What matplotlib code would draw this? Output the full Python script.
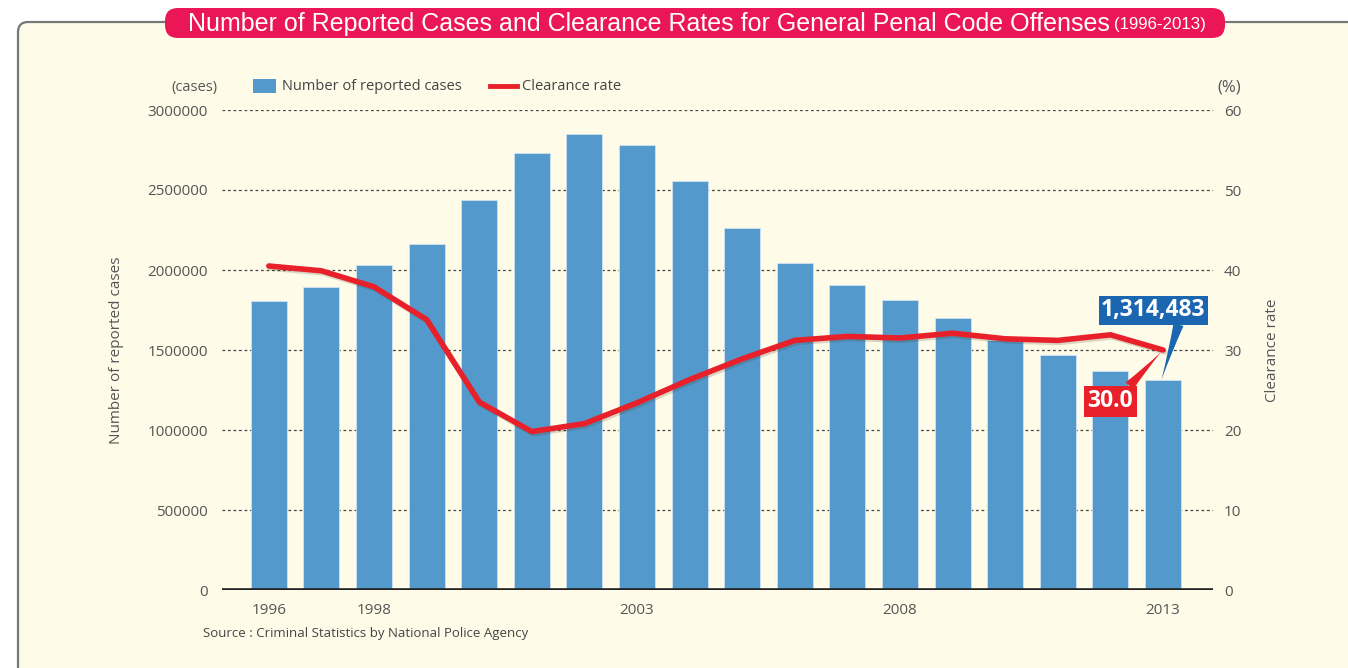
import matplotlib
matplotlib.use("Agg")
import matplotlib.pyplot as plt
from matplotlib.patches import FancyBboxPatch, Rectangle
from matplotlib.lines import Line2D
import matplotlib.patheffects as pe

# ---- data ----
years = list(range(1996, 2014))
reported_cases = [1806000, 1894000, 2031000, 2162000, 2437000, 2731000, 2850000,
                  2781000, 2556000, 2262000, 2044000, 1906000, 1812000, 1700000,
                  1562000, 1469000, 1369000, 1314483]
clearance_rate = [40.5, 39.9, 37.9, 33.8, 23.5, 19.8, 20.8, 23.4, 26.3, 28.9,
                  31.2, 31.7, 31.5, 32.1, 31.4, 31.2, 31.9, 30.0]
xtick_years = [1996, 1998, 2003, 2008, 2013]
left_ticks = [0, 500000, 1000000, 1500000, 2000000, 2500000, 3000000]
right_ticks = [0, 10, 20, 30, 40, 50, 60]

title = "Number of Reported Cases and Clearance Rates for General Penal Code Offenses"
subtitle = "(1996-2013)"
source = "Source : Criminal Statistics by National Police Agency"

BAR = "#5499CB"
RED = "#E8202A"
PINK = "#EB1655"
BLUE_BOX = "#1A66B0"
CREAM = "#FEFBE9"
GREY = "#555555"
FONT = ["Open Sans", "DejaVu Sans"]
TFONT = ["Liberation Sans Narrow", "Liberation Sans", "DejaVu Sans"]

W, H = 1348, 668
fig = plt.figure(figsize=(W / 100, H / 100), dpi=100)
fig.patch.set_facecolor("white")

# background axes in pixel coordinates
bg = fig.add_axes([0, 0, 1, 1], zorder=0)
bg.set_xlim(0, W)
bg.set_ylim(H, 0)
bg.axis("off")
frame = FancyBboxPatch((18, 22), 1400, 700, boxstyle="round,pad=0,rounding_size=10",
                       facecolor=CREAM, edgecolor="#777777", linewidth=1.6)
bg.add_patch(frame)
tbox = FancyBboxPatch((165, 8), 1060, 30, boxstyle="round,pad=0,rounding_size=13",
                      facecolor=PINK, edgecolor="none")
bg.add_patch(tbox)
t1 = bg.text(188, 24, title, color="white", fontsize=18.0, family=TFONT,
             va="center", ha="left")
bg.annotate(subtitle, xy=(1, 0.5), xycoords=t1, xytext=(3, 0), textcoords="offset points",
            color="white", fontsize=12.2, family=TFONT, va="center", ha="left")

# main axes
x0, x1 = 222, 1213
ytop, ybot = 110, 590
ax = fig.add_axes([x0 / W, 1 - ybot / H, (x1 - x0) / W, (ybot - ytop) / H], zorder=1)
ax.patch.set_alpha(0)
xs = list(range(len(years)))
ax.bar(xs, reported_cases, width=0.685, color=BAR, edgecolor="#CFE3F2",
       linewidth=0.6, zorder=2)
ax.set_xlim(-0.89, 17.95)
ax.set_ylim(0, 3000000)
ax.set_yticks(left_ticks)
ax.set_yticklabels([str(v) for v in left_ticks])
for v in left_ticks[1:]:
    ax.axhline(v, color="#444444", linestyle=(0, (2.2, 2.2)), linewidth=0.9, zorder=1)
ax.axhline(0, color="#222222", linewidth=2.6, zorder=3)
ax.set_xticks([years.index(y) for y in xtick_years])
ax.set_xticklabels([str(y) for y in xtick_years])
for s in ax.spines.values():
    s.set_visible(False)
ax.tick_params(axis="both", length=0, labelsize=11, colors=GREY, labelcolor=GREY)
ax.tick_params(axis="y", pad=10)
ax.tick_params(axis="x", pad=9)
for lab in ax.get_xticklabels() + ax.get_yticklabels():
    lab.set_family(FONT)
ax.set_ylabel("Number of reported cases", family=FONT, fontsize=11, color=GREY, labelpad=17)

ax2 = ax.twinx()
ax2.set_zorder(2)
ax2.patch.set_alpha(0)
ax2.set_ylim(0, 60)
ax2.set_yticks(right_ticks)
ax2.set_yticklabels([str(v) for v in right_ticks])
for s in ax2.spines.values():
    s.set_visible(False)
ax2.tick_params(axis="y", length=0, labelsize=11, colors=GREY, labelcolor=GREY, pad=8)
for lab in ax2.get_yticklabels():
    lab.set_family(FONT)
ax2.set_ylabel("Clearance rate", family=FONT, fontsize=11, color=GREY, labelpad=17)
ax2.plot(xs, clearance_rate, color=RED, linewidth=4.0, solid_joinstyle="miter",
         solid_capstyle="round", zorder=4,
         path_effects=[pe.SimpleLineShadow(offset=(1.2, -1.5), shadow_color="#3a3010", alpha=0.18),
                       pe.Normal()])

# annotations
ax.annotate(f"{reported_cases[-1]:,}", xy=(xs[-1] - 0.03, reported_cases[-1]),
            xytext=(-6, 50), textcoords="offset points", ha="center", va="center",
            fontsize=16.5, fontweight="bold", color="white", family=FONT,
            bbox=dict(boxstyle="square,pad=0.1", facecolor=BLUE_BOX, edgecolor="none"),
            arrowprops=dict(arrowstyle="wedge,tail_width=0.45,shrink_factor=0.4",
                            facecolor=BLUE_BOX, edgecolor="none", shrinkA=0, shrinkB=0,
                            relpos=(0.75, 0)),
            zorder=6)
ax2.annotate(f"{clearance_rate[-1]:.1f}", xy=(xs[-1], clearance_rate[-1]),
             xytext=(-38, -37), textcoords="offset points", ha="center", va="center",
             fontsize=16.5, fontweight="bold", color="white", family=FONT,
             bbox=dict(boxstyle="square,pad=0.15", facecolor=RED, edgecolor="none"),
             arrowprops=dict(arrowstyle="wedge,tail_width=0.45,shrink_factor=0.4",
                             facecolor=RED, edgecolor="none", shrinkA=0, shrinkB=2,
                             relpos=(0.85, 1)),
             zorder=6)

# legend / unit labels / source
bg.text(218, 87, "(cases)", ha="right", va="center", fontsize=10.5, color=GREY, family=FONT)
bg.text(1241, 87, "(%)", ha="right", va="center", fontsize=12, color=GREY, family=FONT)
bg.add_patch(Rectangle((253, 79), 23, 14, facecolor=BAR, edgecolor="none"))
bg.text(282, 86, "Number of reported cases", ha="left", va="center", fontsize=10.5,
        color="#444444", family=FONT)
bg.add_line(Line2D([490, 517], [86, 86], color=RED, linewidth=3.5))
bg.text(522, 86, "Clearance rate", ha="left", va="center", fontsize=10.5,
        color="#444444", family=FONT)
bg.text(203, 633, source, ha="left", va="center", fontsize=9.5, color="#444444", family=FONT)

fig.savefig("out.png", dpi=100, facecolor=fig.get_facecolor())
